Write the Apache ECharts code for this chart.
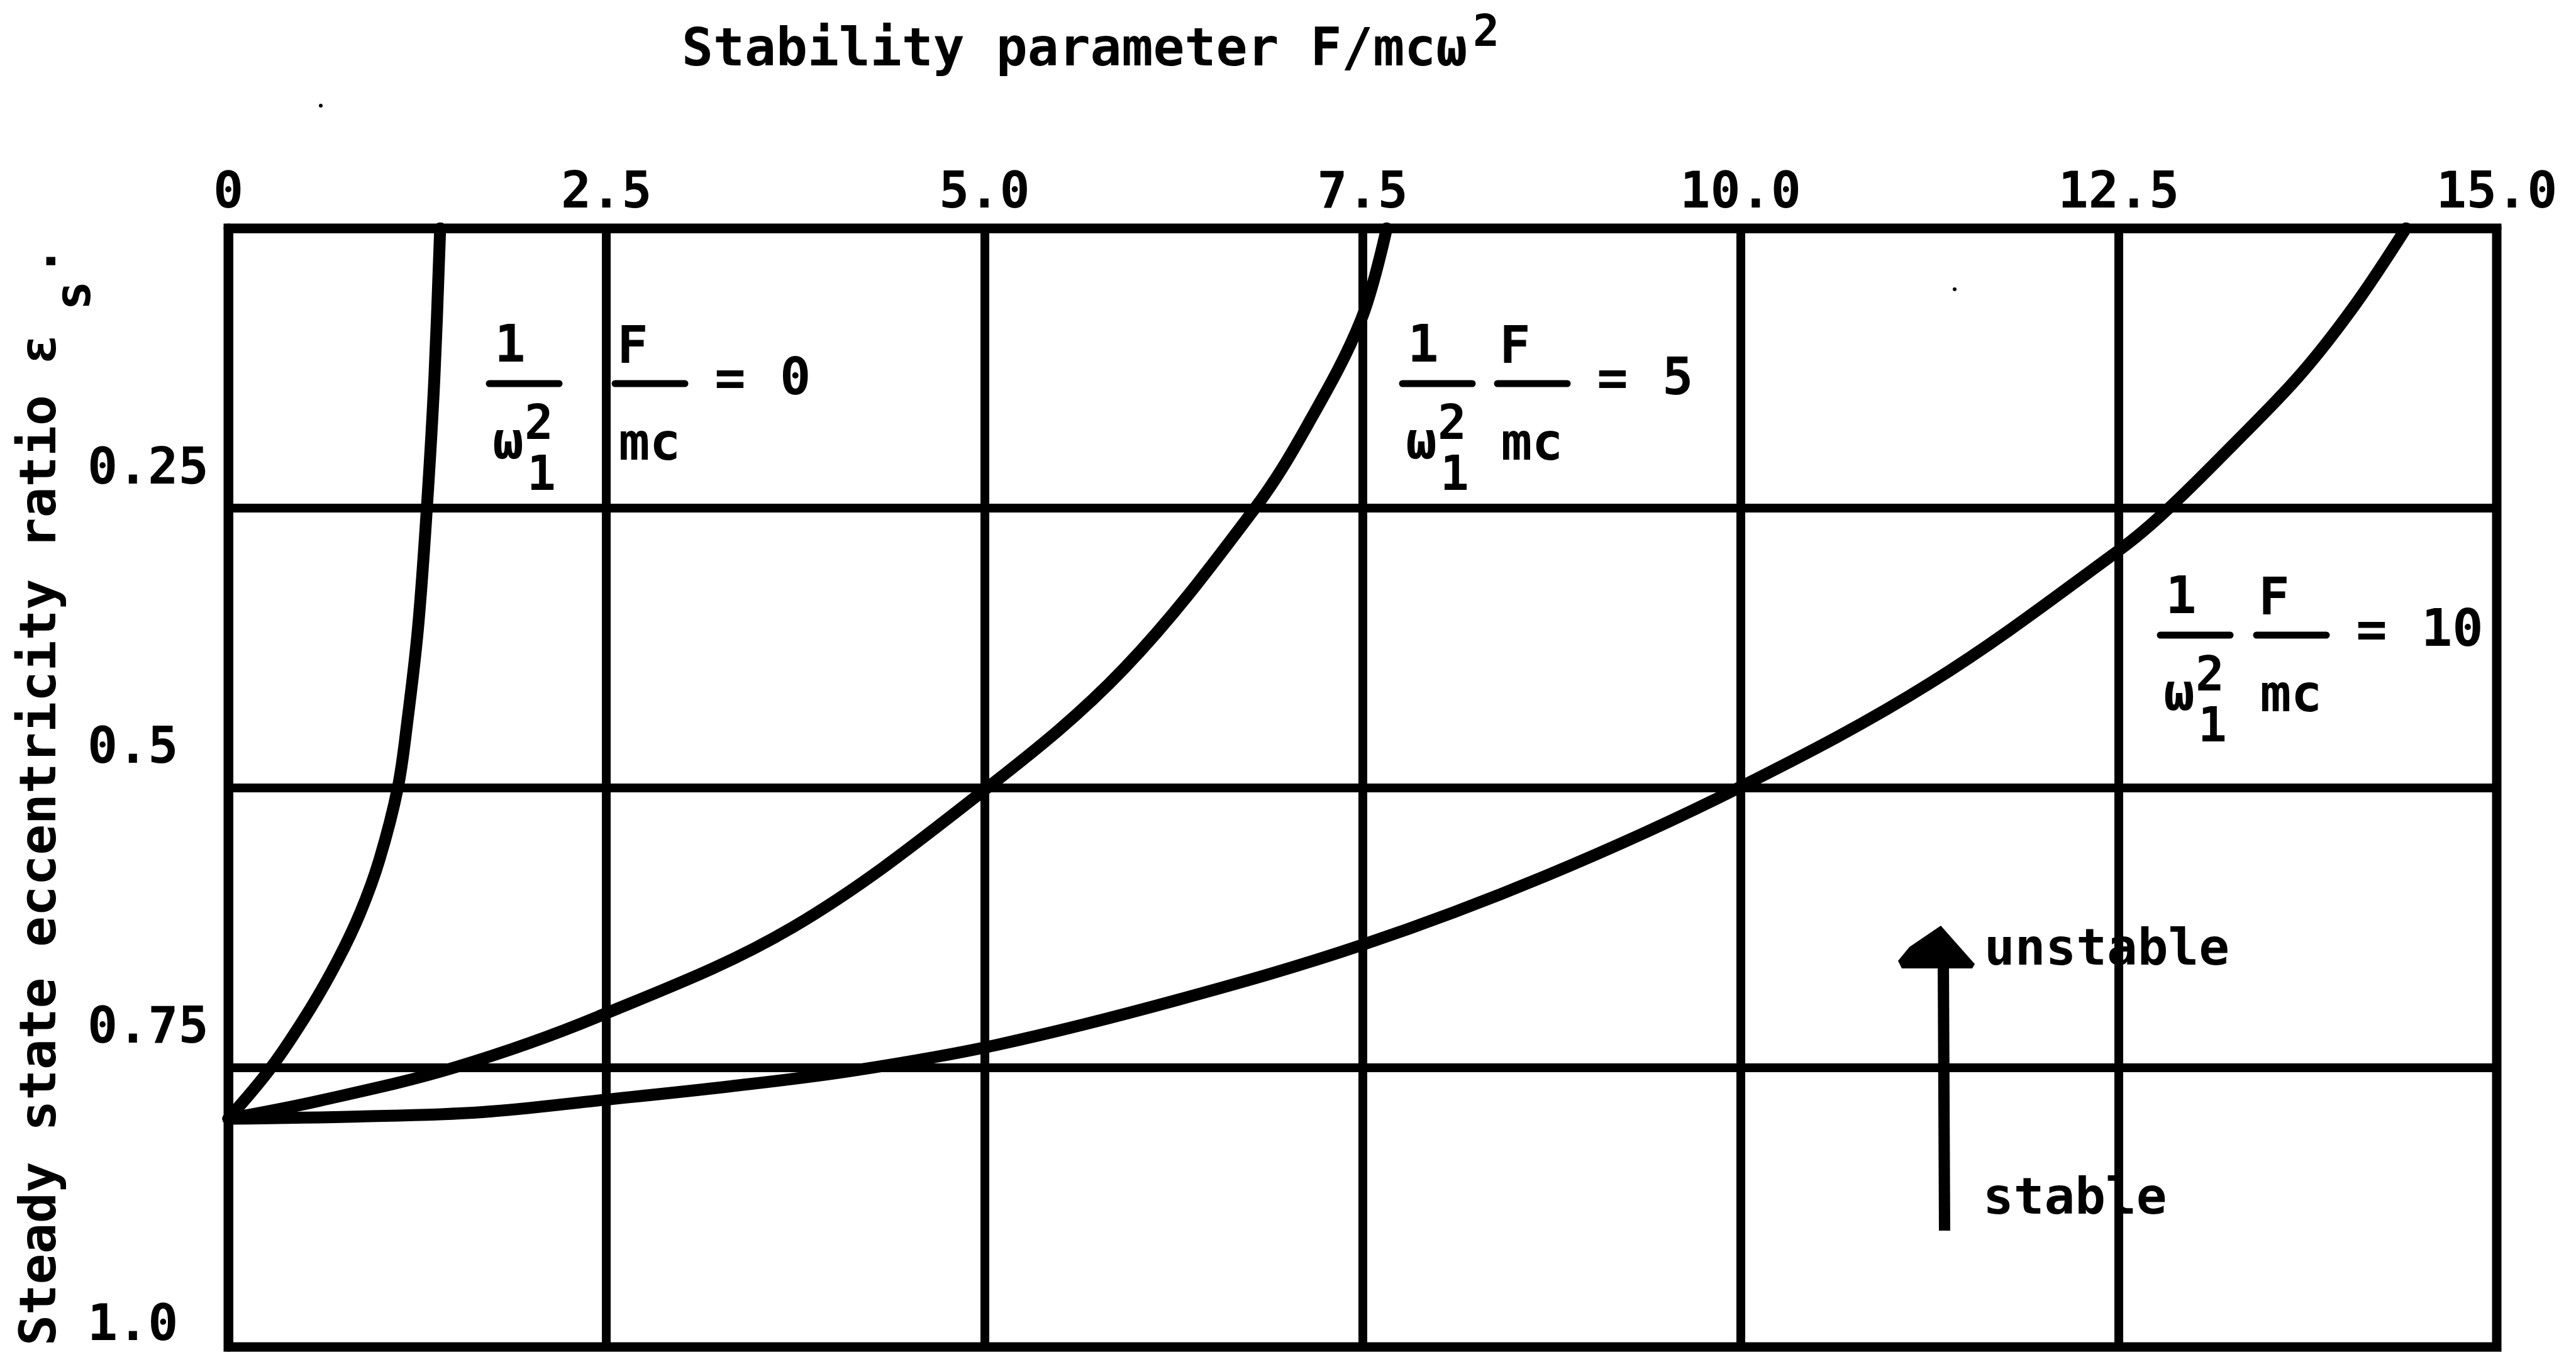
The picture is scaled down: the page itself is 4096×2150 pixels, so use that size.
<!DOCTYPE html>
<html>
<head>
<meta charset="utf-8">
<script src="https://cdn.jsdelivr.net/npm/echarts/dist/echarts.min.js"></script>
<style>
  html, body { margin: 0; padding: 0; background: #ffffff; }
  #chart { width: 4096px; height: 2150px; }
</style>
</head>
<body>
<div id="chart"></div>
<script>
// Axis tick labels
const xTickLabels = ['0', '2.5', '5.0', '7.5', '10.0', '12.5', '15.0'];
const yTickLabels = ['', '0.25', '0.5', '0.75', '1.0'];

// Stability boundary for (1/ω1²)(F/mc) = 0
const curve0X = [0, 0.284, 0.545, 0.725, 0.872, 0.998, 1.121, 1.183, 1.254, 1.313, 1.363, 1.401];
const curve0Y = [0.796, 0.75, 0.697, 0.654, 0.612, 0.565, 0.50, 0.442, 0.358, 0.25, 0.133, 0.0];

// Stability boundary for (1/ω1²)(F/mc) = 5
const curve5X = [0, 0.6, 1.50, 2.44, 3.73, 5.02, 5.92, 6.79, 7.14, 7.49, 7.66];
const curve5Y = [0.796, 0.780, 0.75, 0.705, 0.625, 0.50, 0.394, 0.25, 0.175, 0.082, 0.0];

// Stability boundary for (1/ω1²)(F/mc) = 10
const curve10X = [0, 0.868, 1.68, 2.49, 3.32, 4.13, 5.08, 6.27, 7.49, 8.71, 9.99, 11.26, 12.51, 12.81, 13.26, 13.70, 14.06, 14.40];
const curve10Y = [0.796, 0.794, 0.790, 0.779, 0.767, 0.753, 0.730, 0.690, 0.641, 0.579, 0.50, 0.406, 0.287, 0.253, 0.193, 0.131, 0.069, 0.0];

const FONT = '"DejaVu Sans Mono", "Liberation Mono", monospace';

function pairs(xs, ys) {
  return xs.map((x, i) => [x, ys[i]]);
}

function txt(s, x, y, size, align, extra) {
  return Object.assign({
    type: 'text', x: x, y: y, z: 10,
    style: {
      text: s, fill: '#000', fontFamily: FONT, fontWeight: 'bold',
      fontSize: size, align: align || 'center', verticalAlign: 'middle'
    }
  }, extra || {});
}

function bar(x1, y, x2) {
  return {
    type: 'line', z: 10,
    shape: { x1: x1, y1: y, x2: x2, y2: y },
    style: { stroke: '#000', lineWidth: 11, lineCap: 'round' }
  };
}

// Label of the form  1/ω1² · F/mc = value
function fraction(ox, oy, gap, value) {
  return [
    txt('1', ox + 33, oy - 56, 82),
    bar(ox, oy, ox + 111),
    txt('ω', ox + 30, oy + 98, 82),
    txt('2', ox + 79, oy + 68, 76),
    txt('1', ox + 83, oy + 149, 76),
    txt('F', ox + gap + 28, oy - 54, 82),
    bar(ox + gap, oy, ox + gap + 111),
    txt('mc', ox + gap + 55, oy + 100, 82),
    txt('=', ox + gap + 183, oy - 2, 82),
    txt(value, ox + gap + 262, oy - 4, 82, 'left')
  ];
}

const curveStyle = { color: '#000', width: 19, cap: 'round', join: 'round' };

function curveSeries(name, xs, ys) {
  return {
    name: name, type: 'line', data: pairs(xs, ys),
    showSymbol: false, smooth: 0.35, clip: true,
    lineStyle: curveStyle, z: 5
  };
}

const graphics = [].concat(
  // Top title
  [txt('Stability parameter F/mcω', 1084, 82, 83, 'left'),
   txt('2', 2342, 55, 70, 'left')],
  // Vertical axis title (reads bottom to top)
  [txt('Steady state eccentricity ratio ε', 67, 2140, 81, 'left', { rotation: Math.PI / 2 }),
   txt('s', 123, 470, 78, 'center', { rotation: Math.PI / 2 }),
   txt('.', 67, 415, 81, 'center', { rotation: Math.PI / 2 })],
  // Curve labels
  fraction(778, 610, 200, '0'),
  fraction(2230, 610, 151, '5'),
  fraction(3435, 1010, 153, '10'),
  // Stability arrow
  [{
    type: 'polygon', z: 10,
    shape: { points: [[3086, 1472], [3140, 1533], [3136, 1540], [3024, 1540], [3018, 1528], [3036, 1506]] },
    style: { fill: '#000' }
  }, {
    type: 'line', z: 10,
    shape: { x1: 3090, y1: 1530, x2: 3092, y2: 1957 },
    style: { stroke: '#000', lineWidth: 18 }
  },
  txt('unstable', 3155, 1513, 81, 'left'),
  txt('stable', 3153, 1909, 81, 'left')],
  // small marks in the margins
  [{ type: 'circle', z: 10, shape: { cx: 510, cy: 168, r: 3 }, style: { fill: '#000' } },
   { type: 'circle', z: 10, shape: { cx: 3108, cy: 460, r: 3 }, style: { fill: '#000' } }]
);

const chart = echarts.init(document.getElementById('chart'), null, { renderer: 'canvas' });

chart.setOption({
  animation: false,
  backgroundColor: '#ffffff',
  grid: {
    left: 363, right: 126, top: 363, bottom: 4,
    show: true, borderColor: '#000', borderWidth: 15, backgroundColor: 'transparent'
  },
  xAxis: {
    type: 'value', position: 'top', min: 0, max: 15, interval: 2.5,
    axisLine: { show: true, lineStyle: { color: '#000', width: 15 } },
    axisTick: { show: false },
    splitLine: { show: true, lineStyle: { color: '#000', width: 14 } },
    axisLabel: {
      show: true, margin: 14, color: '#000', fontFamily: FONT, fontWeight: 'bold', fontSize: 80,
      formatter: v => xTickLabels[Math.round(v / 2.5)] || ''
    }
  },
  yAxis: {
    type: 'value', inverse: true, min: 0, max: 1, interval: 0.25,
    axisLine: { show: true, lineStyle: { color: '#000', width: 15 } },
    axisTick: { show: false },
    splitLine: { show: true, lineStyle: { color: '#000', width: 14 } },
    axisLabel: {
      show: true, align: 'left', margin: 224, verticalAlign: 'middle',
      formatter: v => {
        const i = Math.round(v / 0.25);
        const s = yTickLabels[i];
        if (!s) return '';
        return i === 4 ? '{e|' + s + '}' : '{n|' + s + '}';
      },
      rich: {
        n: { color: '#000', fontFamily: FONT, fontWeight: 'bold', fontSize: 80, padding: [0, 0, 120, 0] },
        e: { color: '#000', fontFamily: FONT, fontWeight: 'bold', fontSize: 80, padding: [0, 0, 64, 0] }
      }
    }
  },
  series: [
    curveSeries('0', curve0X, curve0Y),
    curveSeries('5', curve5X, curve5Y),
    curveSeries('10', curve10X, curve10Y)
  ],
  graphic: graphics
});
</script>
</body>
</html>
